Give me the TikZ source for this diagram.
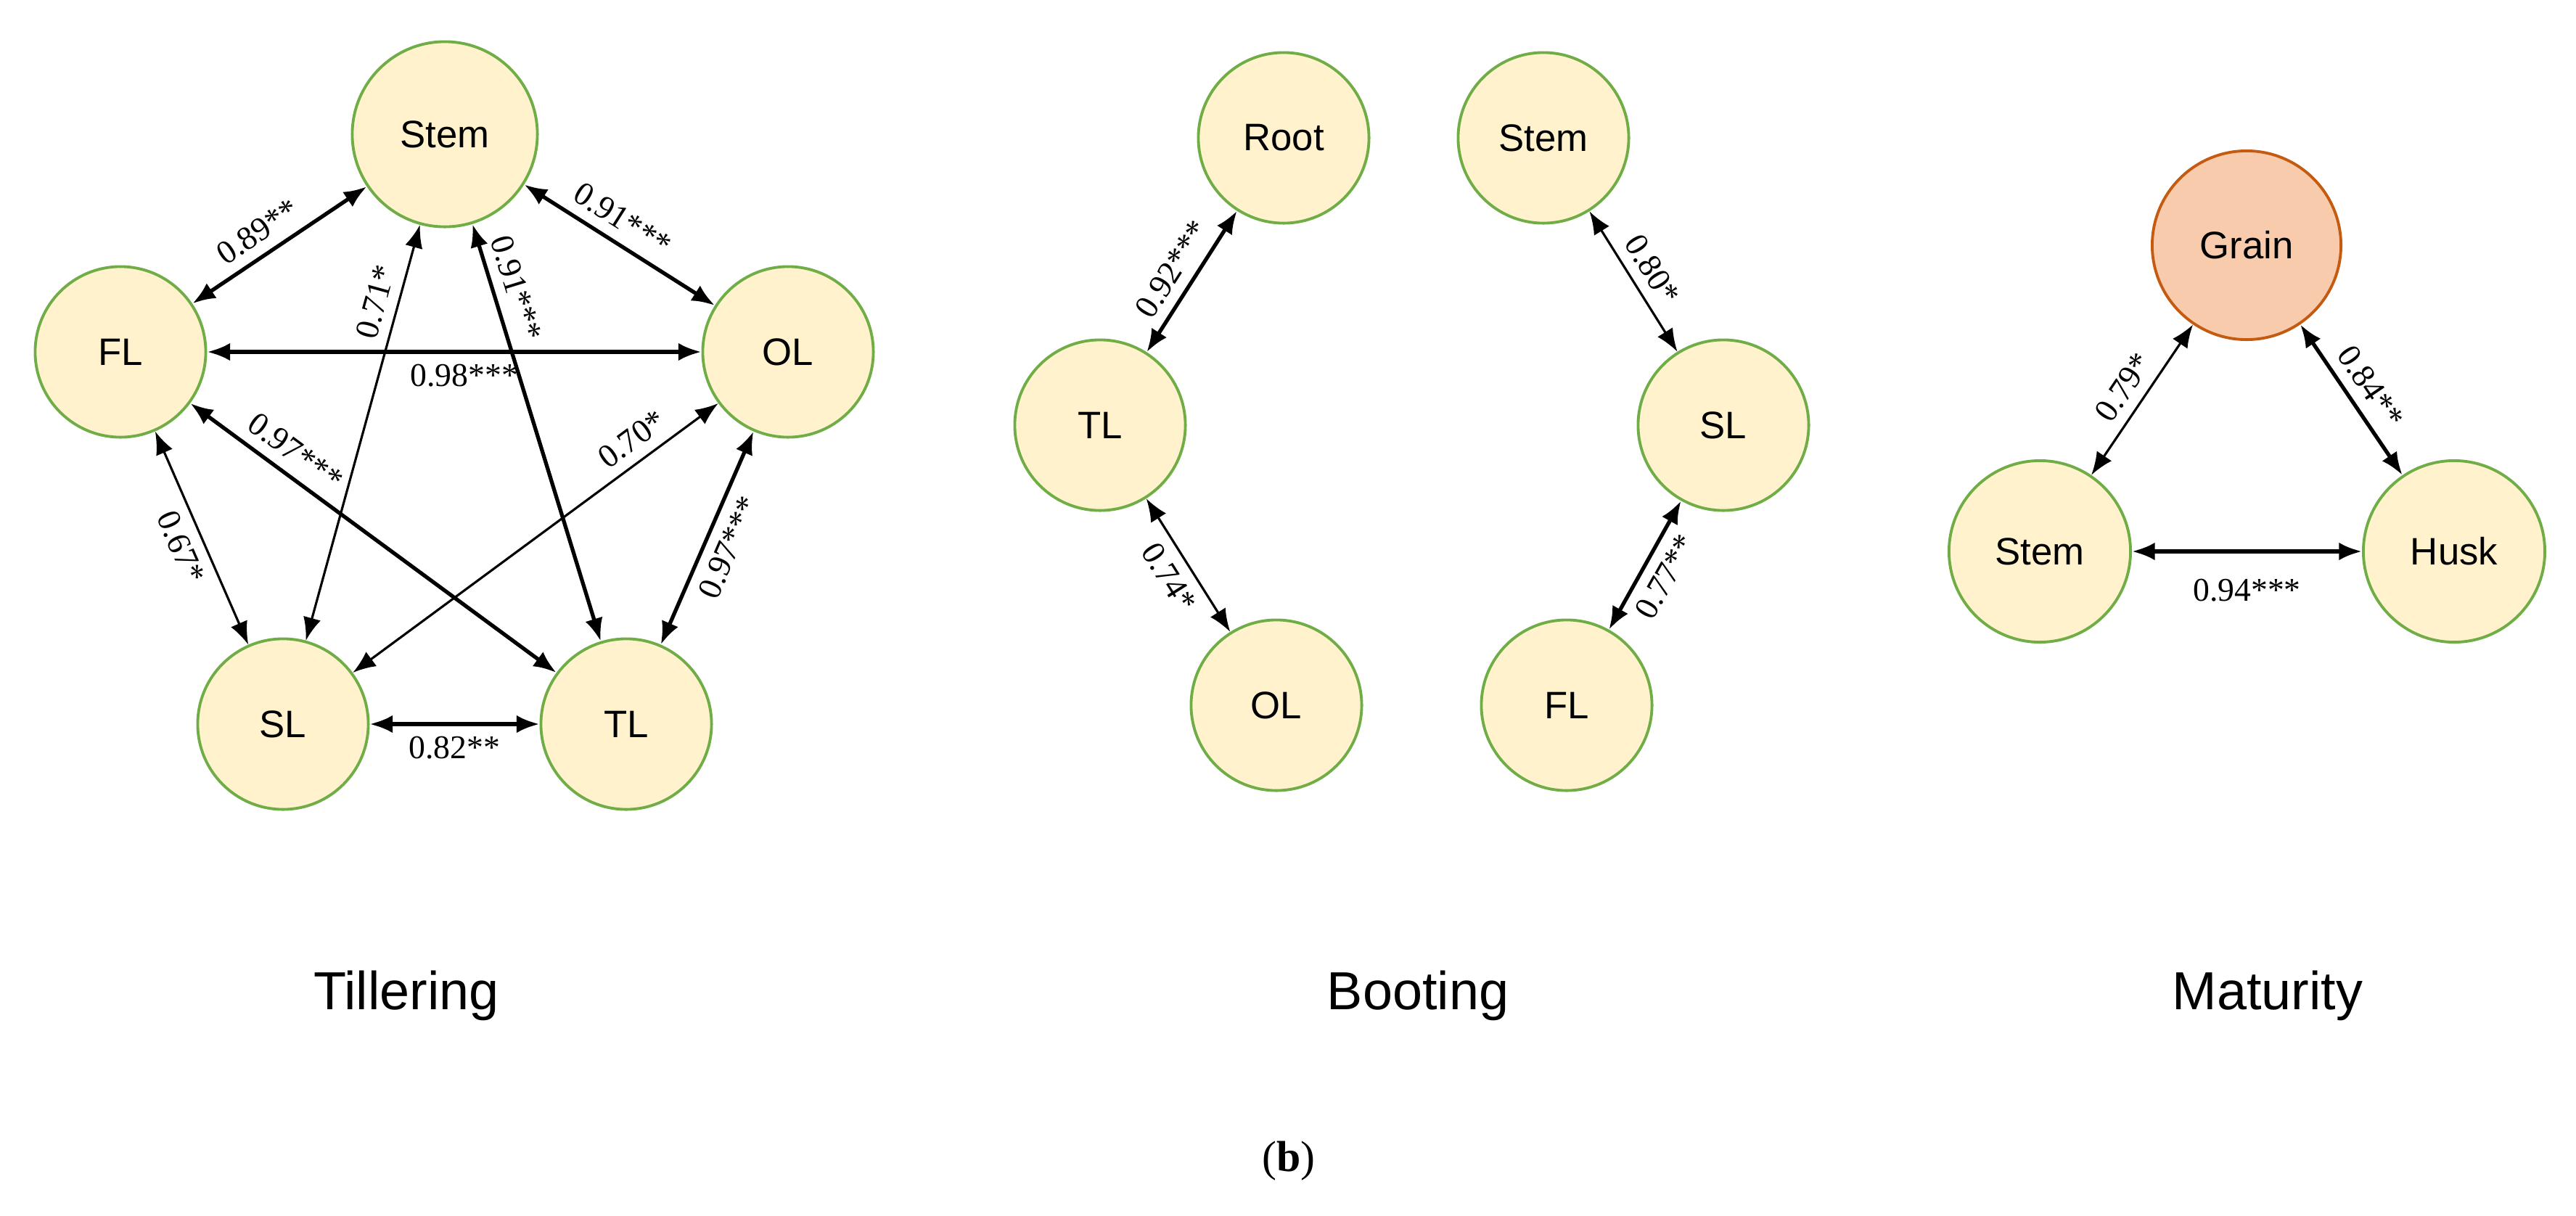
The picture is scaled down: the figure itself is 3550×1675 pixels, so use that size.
\documentclass[tikz,border=0pt]{standalone}
\usepackage{fontspec}
\setmainfont{Liberation Sans}
\newfontfamily\numfont{Liberation Serif}
\usetikzlibrary{arrows.meta}

\definecolor{cream}{HTML}{FFF2CC}
\definecolor{leafgreen}{HTML}{70AD47}
\definecolor{peach}{HTML}{F8CBAD}
\definecolor{rust}{HTML}{C55A11}

\begin{document}
\begin{tikzpicture}[x=0.01cm, y=-0.01cm]
    \tikzset{
        organ/.style={
            circle, draw=leafgreen, fill=cream, line width=1.1pt,
            minimum size=#1, inner sep=0pt, font=\fontsize{15}{15}\selectfont,
        },
        organ/.default=2.35cm,
        grain/.style={organ=2.6cm, draw=rust, fill=peach},
        strong/.style={<->, >={Latex[length=9pt,width=7pt]}, line width=1.5pt},
        weak/.style={<->, >={Latex[length=9pt,width=7pt]}, line width=0.9pt},
        coef/.style={sloped, font=\numfont\fontsize{13}{13}\selectfont, inner sep=4pt},
        stage/.style={font=\fontsize{21}{21}\selectfont},
    }
    \useasboundingbox (0,0) rectangle (3550,1675);

    % Tillering
    \node[organ=2.55cm] (tStem) at (613,185) {Stem};
    \node[organ] (tFL) at (166,485) {FL};
    \node[organ] (tOL) at (1086,485) {OL};
    \node[organ] (tSL) at (390,998) {SL};
    \node[organ] (tTL) at (863,998) {TL};

    \draw[strong] (tFL) -- node[coef, above, pos=.45] {0.89**} (tStem);
    \draw[strong] (tStem) -- node[coef, above, pos=.45] {0.91***} (tOL);
    \draw[weak] (tSL) -- node[coef, above, pos=.8] {0.71*} (tStem);
    \draw[strong] (tStem) -- node[coef, above, pos=.17] {0.91***} (tTL);
    \draw[strong] (tFL) -- node[coef, below, pos=.52] {0.98***} (tOL);
    \draw[strong] (tFL) -- node[coef, above, pos=.25] {0.97***} (tTL);
    \draw[weak] (tSL) -- node[coef, above, pos=.8] {0.70*} (tOL);
    \draw[weak] (tFL) -- node[coef, below, pos=.5] {0.67*} (tSL);
    \draw[strong] (tTL) -- node[coef, below, pos=.5] {0.97***} (tOL);
    \draw[strong] (tSL) -- node[coef, below, pos=.5] {0.82**} (tTL);

    % Booting
    \node[organ] (bRoot) at (1769,190) {Root};
    \node[organ] (bTL) at (1516,586) {TL};
    \node[organ] (bOL) at (1759,972) {OL};
    \node[organ] (bStem) at (2127,190) {Stem};
    \node[organ] (bSL) at (2375,586) {SL};
    \node[organ] (bFL) at (2159,972) {FL};

    \draw[strong] (bTL) -- node[coef, above] {0.92***} (bRoot);
    \draw[weak] (bTL) -- node[coef, below] {0.74*} (bOL);
    \draw[weak] (bStem) -- node[coef, above] {0.80*} (bSL);
    \draw[strong] (bFL) -- node[coef, below] {0.77**} (bSL);

    % Maturity
    \node[grain] (mGrain) at (3096,338) {Grain};
    \node[organ=2.5cm] (mStem) at (2811,760) {Stem};
    \node[organ=2.5cm] (mHusk) at (3382,760) {Husk};

    \draw[weak] (mStem) -- node[coef, above] {0.79*} (mGrain);
    \draw[strong] (mGrain) -- node[coef, above] {0.84**} (mHusk);
    \draw[strong] (mStem) -- node[coef, below, yshift=-6pt] {0.94***} (mHusk);

    % Stage titles
    \node[stage] (tTitle) at (560,1372) {Tillering};
    \node[stage] (bTitle) at (1954,1372) {Booting};
    \node[stage] (mTitle) at (3125,1372) {Maturity};
    \node[font=\numfont\fontsize{17}{17}\selectfont] (panel) at (1776,1600) {(\textbf{b})};
\end{tikzpicture}
\end{document}
